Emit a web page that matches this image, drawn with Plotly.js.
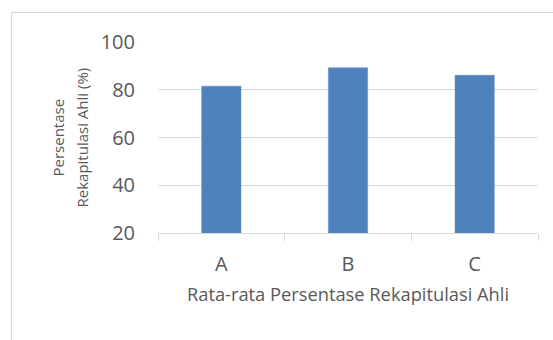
<!DOCTYPE html>
<html>
<head>
<meta charset="utf-8">
<script src="https://cdn.plot.ly/plotly-3.0.1.min.js"></script>
<style>
  html, body { margin: 0; padding: 0; background: #fff; }
  #wrap { position: relative; width: 553px; height: 340px; overflow: hidden; }
  #frame { position: absolute; left: 11px; top: 12px; width: 560px; height: 360px; border: 1px solid #d9d9d9; box-sizing: border-box; pointer-events: none; }
  #chart { position: absolute; left: 0; top: 0; width: 553px; height: 340px; }
</style>
</head>
<body>
<div id="wrap">
  <div id="chart"></div>
  <div id="frame"></div>
</div>
<script>
const categories = ["A", "B", "C"];
const values = [81.5, 89.2, 86.1];
const yTicks = [20, 40, 60, 80, 100];
const xTitle = "Rata-rata Persentase Rekapitulasi Ahli";
const yTitleLines = ["Persentase", "Rekapitulasi Ahli (%)"];

const fontFam = "Open Sans, Lato, sans-serif";
const textColor = "#595959";

const data = [{
  type: "bar",
  x: categories,
  y: values,
  base: 0,
  width: 0.31,
  marker: { color: "#4F81BD", line: { color: "#5b8cc7", width: 0.5 } },
  hoverinfo: "skip"
}];

// plot area: left 158, width 380
const plotLeft = 158, plotW = 380;
const yTitleX = [57, 81];

const layout = {
  width: 553,
  height: 340,
  margin: { l: 158, r: 15, t: 42, b: 107 },
  paper_bgcolor: "#ffffff",
  plot_bgcolor: "#ffffff",
  showlegend: false,
  font: { family: fontFam, color: textColor },
  xaxis: {
    type: "category",
    tickson: "boundaries",
    ticks: "outside",
    ticklen: 7,
    tickcolor: "#d9d9d9",
    showline: true,
    linecolor: "#d9d9d9",
    linewidth: 1,
    showgrid: false,
    tickfont: { size: 20, color: textColor, family: fontFam },
    ticklabelstandoff: 13,
    title: { text: xTitle, font: { size: 18.3, color: textColor, family: fontFam }, standoff: 12 },
    fixedrange: true
  },
  yaxis: {
    range: [20, 100],
    tickvals: yTicks,
    ticktext: yTicks.map(String),
    showgrid: true,
    gridcolor: "#d9d9d9",
    gridwidth: 1,
    zeroline: false,
    showline: false,
    ticks: "",
    tickfont: { size: 20, color: textColor, family: fontFam },
    ticklabelstandoff: 22,
    fixedrange: true
  },
  annotations: yTitleLines.map((t, i) => ({
    text: t,
    textangle: -90,
    xref: "paper",
    yref: "paper",
    x: (yTitleX[i] - plotLeft) / plotW,
    y: 0.5,
    xanchor: "center",
    yanchor: "middle",
    showarrow: false,
    font: { size: 15, color: textColor, family: fontFam }
  }))
};

Plotly.newPlot("chart", data, layout, { displayModeBar: false, staticPlot: true });
</script>
</body>
</html>
